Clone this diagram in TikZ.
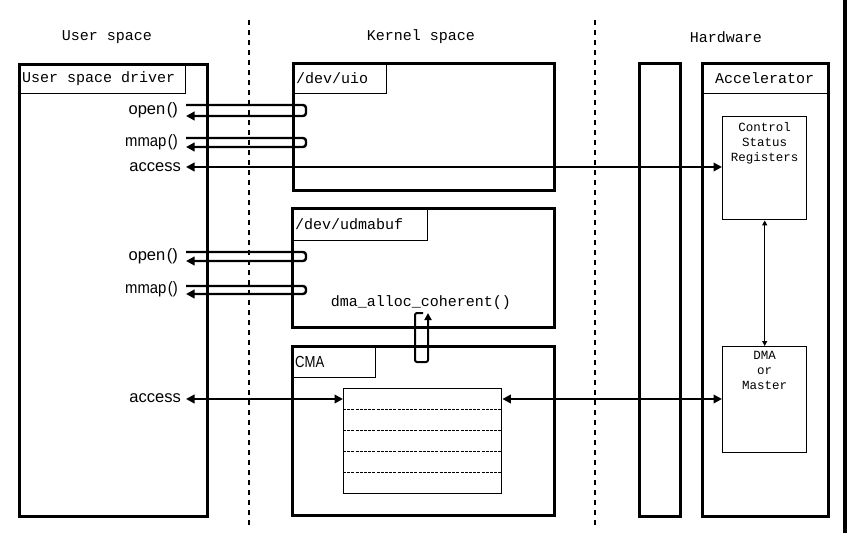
\documentclass[tikz,border=0pt]{standalone}
\usepackage{fontspec}
\setmainfont{Liberation Sans}
\newfontfamily\monof{Liberation Mono}
\newfontfamily\narrowf[FakeStretch=0.82]{Liberation Sans}
\newfontfamily\mmapf[FakeStretch=0.9]{Liberation Sans}
\usetikzlibrary{arrows.meta}
\begin{document}
\begin{tikzpicture}[x=1pt,y=-1pt,
  box/.style={draw, line width=2.5pt, inner sep=0pt, anchor=north west},
  thinbox/.style={draw, line width=1.4pt, inner sep=0pt, anchor=north west},
  labbox/.style={draw, line width=1.2pt, inner sep=0pt, anchor=north west},
  mono/.style={font=\monof\fontsize{15}{17}\selectfont, inner sep=0pt},
  small/.style={font=\monof\fontsize{12.5}{15}\selectfont, inner sep=0pt, align=center},
  call/.style={font=\fontsize{16.5}{18}\selectfont, inner sep=0pt, anchor=east},
  divider/.style={line width=2.6pt, dash pattern=on 5pt off 5pt},
  tip/.tip={Triangle[length=8.5pt,width=8.5pt]},
  stip/.tip={Triangle[length=5pt,width=5pt]},
  arr/.style={line width=2.4pt, rounded corners=3pt, -tip},
  darr/.style={line width=2.4pt, tip-tip},
  thinarr/.style={line width=1.3pt, stip-stip},
  memline/.style={line width=0.9pt, dash pattern=on 3pt off 1.2pt}
]
\useasboundingbox (0,0) rectangle (847,533);
\fill[black] (843,0) rectangle (847,533);

% headings
\node[mono] (hus) at (107,37) {User space};
\node[mono] (hks) at (421,37) {Kernel space};
\node[mono] (hhw) at (726,37) {Hardware};

% dividers
\coordinate (d1t) at (249,20); \coordinate (d1b) at (249,528);
\coordinate (d2t) at (595,20); \coordinate (d2b) at (595,528);
\draw[divider] (d1t) -- (d1b);
\draw[divider] (d2t) -- (d2b);

% user space driver
\node[box, minimum width=188pt, minimum height=452pt] (usd) at (18,63) {};
\node[labbox, minimum width=167pt, minimum height=30pt] (usdl) at (18,63) {};
\node[mono, anchor=west] (usdt) at ([xshift=4pt]usdl.west) {User space driver};

% kernel boxes
\node[box, minimum width=261pt, minimum height=127pt] (uio) at (292,62) {};
\node[labbox, minimum width=94pt, minimum height=31pt] (uiol) at (292,62) {};
\node[mono, anchor=west] (uiot) at ([xshift=4pt]uiol.west) {/dev/uio};

\node[box, minimum width=262pt, minimum height=119pt] (udma) at (291,207) {};
\node[labbox, minimum width=136pt, minimum height=33pt] (udmal) at (291,207) {};
\node[mono, anchor=west] (udmat) at ([xshift=4pt]udmal.west) {/dev/udmabuf};

\node[box, minimum width=262pt, minimum height=169pt] (cma) at (291,345) {};
\node[labbox, minimum width=84pt, minimum height=32pt] (cmal) at (291,345) {};
\node[anchor=west, inner sep=0pt, font=\narrowf\fontsize{16}{18}\selectfont] (cmat) at ([xshift=4pt]cmal.west) {CMA};

\node[thinbox, minimum width=158pt, minimum height=105pt] (mem) at (343,388) {};
\foreach \yy/\nm in {409/ma,430/mb,451/mc,472/md}{
  \coordinate (\nm) at (0,\yy);
  \draw[memline] (mem.west |- \nm) -- (mem.east |- \nm);
}

\node[mono] (dmac) at (421,303) {dma\_alloc\_coherent()};

% hardware
\node[box, minimum width=41pt, minimum height=453pt] (bus) at (638,62) {};
\node[box, minimum width=126pt, minimum height=453pt] (acc) at (701,62) {};
\node[labbox, minimum width=126pt, minimum height=31pt] (accl) at (701,62) {};
\node[mono] (acct) at (accl.center) {Accelerator};
\node[thinbox, minimum width=84pt, minimum height=103pt] (csr) at (722,116) {};
\node[small, anchor=north] (csrt) at ([yshift=-6pt]csr.north) {Control\\Status\\Registers};
\node[thinbox, minimum width=84pt, minimum height=106pt] (dma) at (722,346) {};
\node[small, anchor=north] (dmat) at ([yshift=-5pt]dma.north) {DMA\\or\\Master};

% call labels
\node[call] (o1) at (178,110) {open\kern1.5pt()};
\node[call, font=\mmapf\fontsize{16.5}{18}\selectfont] (m1) at (178,142) {mmap\kern1.5pt()};
\node[call] (a1) at (181,167) {access};
\node[call] (o2) at (178,256) {open\kern1.5pt()};
\node[call, font=\mmapf\fontsize{16.5}{18}\selectfont] (m2) at (178,289) {mmap\kern1.5pt()};
\node[call] (a2) at (181,398) {access};

% loop connectors
\coordinate (lx) at (306,0);
\coordinate (ou1) at (186,105); \coordinate (ou2) at (186,116);
\coordinate (mu1) at (186,138); \coordinate (mu2) at (186,147);
\coordinate (od1) at (186,252); \coordinate (od2) at (186,261);
\coordinate (md1) at (186,286); \coordinate (md2) at (186,294);
\draw[arr] (ou1) -- (ou1 -| lx) -- (ou2 -| lx) -- (ou2);
\draw[arr] (mu1) -- (mu1 -| lx) -- (mu2 -| lx) -- (mu2);
\draw[arr] (od1) -- (od1 -| lx) -- (od2 -| lx) -- (od2);
\draw[arr] (md1) -- (md1 -| lx) -- (md2 -| lx) -- (md2);

% access arrows
\coordinate (ac1) at (186,167);
\coordinate (ac2) at (186,399);
\draw[darr] (ac1) -- (ac1 -| csr.west);
\draw[darr] (ac2) -- (ac2 -| mem.west);
\draw[darr] (mem.east |- ac2) -- (dma.west |- ac2);

% csr <-> dma
\draw[thinarr] (csr.south) -- (dma.north);

% dma_alloc loop
\coordinate (dl1) at (423,313);
\coordinate (dl2) at (415,313);
\coordinate (dl3) at (415,362);
\coordinate (dl4) at (428,362);
\coordinate (dl5) at (428,313);
\draw[line width=2pt, rounded corners=2pt, -{Triangle[length=7pt,width=7pt]}] (dl1) -- (dl2) -- (dl3) -- (dl4) -- (dl5);
\end{tikzpicture}
\end{document}
